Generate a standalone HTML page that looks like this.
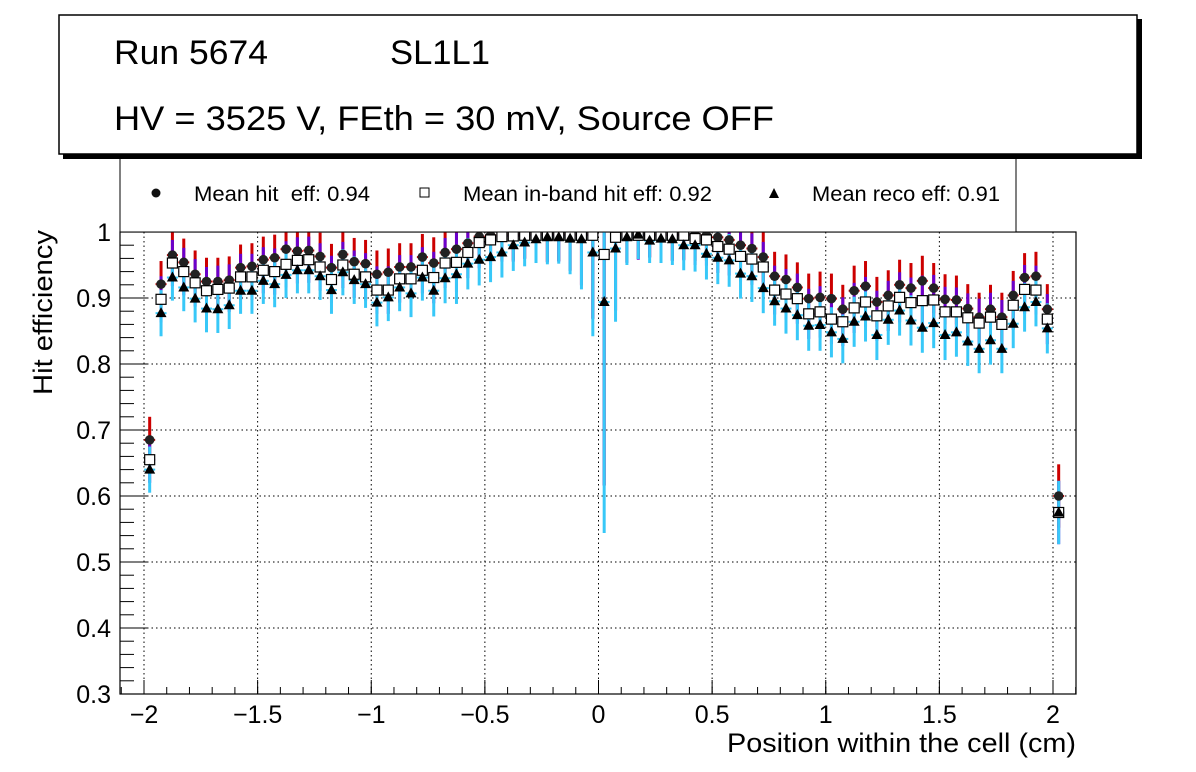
<!DOCTYPE html>
<html><head><meta charset="utf-8"><style>
html,body{margin:0;padding:0;background:#fff;}
svg{display:block;font-family:"Liberation Sans",sans-serif;}
</style></head><body>
<svg id="chart" width="1196" height="772" viewBox="0 0 1196 772">
<g id="grid"></g>
<g id="axes"></g>
<g id="marks" clip-path="url(#clip)"></g>
<defs><clipPath id="clip"><rect x="120" y="232" width="956" height="462"/></clipPath></defs>
<rect x="120" y="155" width="896" height="77" fill="#fff" stroke="#000" stroke-width="1"/>
<g><circle cx="156" cy="193" r="4.5" fill="#111"/><text x="194" y="201" font-size="21" textLength="176" lengthAdjust="spacingAndGlyphs" xml:space="preserve">Mean hit  eff: 0.94</text></g>
<g><rect x="420" y="188" width="9" height="9" fill="#fff" stroke="#000"/><text x="463" y="201" font-size="21" textLength="249" lengthAdjust="spacingAndGlyphs">Mean in-band hit eff: 0.92</text></g>
<g><polygon points="774,188 769,198 779,198" fill="#000"/><text x="812" y="201" font-size="21" textLength="188" lengthAdjust="spacingAndGlyphs">Mean reco eff: 0.91</text></g>
<rect x="63" y="19" width="1079" height="140" fill="#000"/>
<rect x="59" y="15" width="1078" height="139" fill="#fff" stroke="#000" stroke-width="1.5"/>
<text x="114" y="64" font-size="34" textLength="154" lengthAdjust="spacingAndGlyphs">Run 5674</text>
<text x="390" y="64" font-size="34" textLength="100" lengthAdjust="spacingAndGlyphs">SL1L1</text>
<text x="114" y="130" font-size="34" textLength="660" lengthAdjust="spacingAndGlyphs">HV = 3525 V, FEth = 30 mV, Source OFF</text>
<text x="727" y="752" font-size="27" textLength="349" lengthAdjust="spacingAndGlyphs">Position within the cell (cm)</text>
<text transform="translate(52,395) rotate(-90)" font-size="27" textLength="165" lengthAdjust="spacingAndGlyphs">Hit efficiency</text>
</svg>
<script>
const hitEff=[0.685,0.921,0.965,0.954,0.936,0.925,0.925,0.927,0.946,0.948,0.958,0.961,0.974,0.971,0.972,0.963,0.946,0.966,0.955,0.952,0.936,0.939,0.947,0.947,0.962,0.953,0.969,0.974,0.983,0.993,0.995,0.995,0.996,0.996,0.996,0.996,0.996,0.996,0.996,0.996,0.966,0.992,0.996,0.996,0.996,0.996,0.996,0.996,0.996,0.995,0.992,0.988,0.980,0.975,0.962,0.933,0.928,0.916,0.899,0.901,0.899,0.883,0.911,0.918,0.894,0.904,0.920,0.915,0.926,0.915,0.898,0.897,0.884,0.871,0.883,0.871,0.904,0.931,0.933,0.883,0.600];
const inbandEff=[0.655,0.898,0.953,0.940,0.923,0.911,0.913,0.915,0.932,0.932,0.942,0.940,0.951,0.957,0.958,0.947,0.928,0.950,0.936,0.932,0.912,0.912,0.929,0.929,0.942,0.931,0.953,0.954,0.969,0.984,0.988,0.993,0.994,0.995,0.995,0.995,0.995,0.995,0.995,0.995,0.966,0.992,0.995,0.995,0.995,0.995,0.995,0.995,0.990,0.988,0.978,0.974,0.963,0.959,0.947,0.912,0.906,0.899,0.876,0.879,0.868,0.864,0.885,0.894,0.873,0.888,0.901,0.893,0.896,0.897,0.879,0.879,0.870,0.862,0.871,0.860,0.889,0.913,0.912,0.868,0.575];
const recoEff=[0.640,0.877,0.931,0.916,0.899,0.884,0.883,0.889,0.911,0.911,0.926,0.921,0.935,0.942,0.942,0.933,0.912,0.939,0.927,0.921,0.893,0.901,0.916,0.907,0.931,0.911,0.930,0.936,0.952,0.958,0.962,0.969,0.980,0.984,0.989,0.992,0.992,0.990,0.989,0.969,0.894,0.975,0.992,0.996,0.987,0.990,0.989,0.980,0.980,0.967,0.961,0.957,0.937,0.933,0.915,0.895,0.884,0.874,0.858,0.859,0.848,0.838,0.864,0.872,0.844,0.867,0.881,0.866,0.855,0.862,0.844,0.848,0.834,0.823,0.836,0.823,0.861,0.886,0.894,0.854,0.575];
const effErr=[0.035,0.035,0.035,0.036,0.036,0.036,0.036,0.036,0.035,0.035,0.035,0.035,0.035,0.035,0.035,0.036,0.036,0.035,0.036,0.036,0.036,0.036,0.036,0.036,0.035,0.039,0.038,0.045,0.039,0.039,0.038,0.038,0.039,0.036,0.036,0.041,0.040,0.054,0.076,0.127,0.350,0.111,0.042,0.037,0.034,0.037,0.039,0.038,0.040,0.039,0.040,0.040,0.038,0.039,0.038,0.037,0.038,0.038,0.038,0.039,0.038,0.037,0.038,0.038,0.038,0.038,0.038,0.038,0.038,0.038,0.038,0.037,0.037,0.037,0.037,0.037,0.037,0.037,0.037,0.038,0.048];
const positions=[];for(let k=0;k<hitEff.length;k++)positions.push(-1.975+0.05*k);
const xTicks=[-2,-1.5,-1,-0.5,0,0.5,1,1.5,2];
const xTickLabels=["\u22122","\u22121.5","\u22121","\u22120.5","0","0.5","1","1.5","2"];
const yTicks=[0.3,0.4,0.5,0.6,0.7,0.8,0.9,1];
const yTickLabels=["0.3","0.4","0.5","0.6","0.7","0.8","0.9","1"];

const NS="http://www.w3.org/2000/svg";
const X0=120,X1=1076,Y0=232,Y1=694;
const xs=v=>144+(v+2)*227.25;
const ys=v=>Y1-(v-0.3)/0.7*(Y1-Y0);
function mk(tag,attrs,parent){const e=document.createElementNS(NS,tag);for(const k in attrs)e.setAttribute(k,attrs[k]);parent.appendChild(e);return e;}
const grid=document.getElementById('grid'),axes=document.getElementById('axes'),marks=document.getElementById('marks');
xTicks.forEach((t,i)=>{
  const g=mk('line',{x1:xs(t),x2:xs(t),y1:Y0,y2:Y1,stroke:'#000','stroke-dasharray':'1.5,3','stroke-width':1},grid);
  
  
  mk('line',{x1:xs(t),x2:xs(t),y1:Y1,y2:Y1-14,stroke:'#000'},axes);
  const tx=mk('text',{x:xs(t),y:723,'font-size':25,'text-anchor':'middle'},axes);
  tx.textContent=xTickLabels[i];
  
  
});
for(let v=-2.1;v<=2.1001;v+=0.1){const x=xs(v);if(x<X0||x>X1)continue;mk('line',{x1:x,x2:x,y1:Y1,y2:Y1-7,stroke:'#000'},axes);}
yTicks.forEach((t,i)=>{
  if(t>0.3&&t<1){const g=mk('line',{x1:X0,x2:X1,y1:ys(t),y2:ys(t),stroke:'#000','stroke-dasharray':'1.5,3','stroke-width':1},grid);
  
  }
  mk('line',{x1:X0,x2:X0+28,y1:ys(t),y2:ys(t),stroke:'#000'},axes);
  const tx=mk('text',{x:111,y:ys(t)+9,'font-size':25,'text-anchor':'end'},axes);
  tx.textContent=yTickLabels[i];
  
  
});
for(let v=0.3;v<=1.0001;v+=0.02){mk('line',{x1:X0,x2:X0+14,y1:ys(v),y2:ys(v),stroke:'#000'},axes);}
mk('rect',{x:X0,y:Y0,width:X1-X0,height:Y1-Y0,fill:'none',stroke:'#000','stroke-width':1.2},axes);

function errBar(i,val,color){
  const x=xs(positions[i]),e=effErr[i];
  const v=mk('line',{x1:x,x2:x,y1:ys(val-e),y2:ys(val+e),stroke:color,'stroke-width':3},marks);
  
  
  mk('line',{x1:x-5.5,x2:x+5.5,y1:ys(val),y2:ys(val),stroke:color,'stroke-width':2},marks);
}
positions.forEach((p,i)=>{errBar(i,hitEff[i],'#cc0000');});
positions.forEach((p,i)=>{errBar(i,inbandEff[i],'#6a00cc');});
positions.forEach((p,i)=>{errBar(i,recoEff[i],'#38c8f8');});
positions.forEach((p,i)=>{
  const x=xs(p);
  const c=mk('circle',{cx:x,cy:ys(hitEff[i]),r:4.8,fill:'#222'},marks);
  
  
  const r=mk('rect',{x:x-5,y:ys(inbandEff[i])-5,width:10,height:10,fill:'#fff',stroke:'#000','stroke-width':1.2},marks);
  
  
  const y=ys(recoEff[i]);
  const t=mk('polygon',{points:`${x},${y-6} ${x-5.5},${y+4} ${x+5.5},${y+4}`,fill:'#000'},marks);
  
  
});
</script>
</body></html>
